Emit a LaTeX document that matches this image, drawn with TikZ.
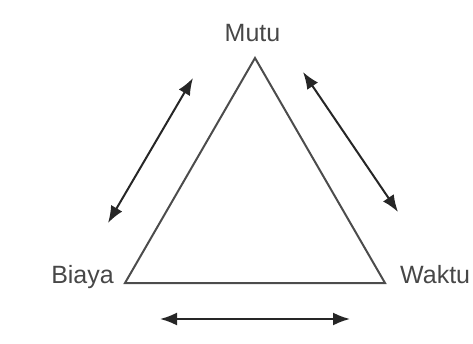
\documentclass[tikz,border=0pt]{standalone}
\usepackage{fontspec}
\setmainfont{Liberation Sans}
\usetikzlibrary{arrows.meta}
\begin{document}
\begin{tikzpicture}[x=1pt,y=-1pt,
    every node/.style={text=black!72,font=\fontsize{25}{30}\selectfont,inner sep=0pt},
    twoway/.style={{Latex[length=17pt,width=13pt]}-{Latex[length=17pt,width=13pt]},line width=2pt,black!85}]
    \useasboundingbox (0,0) rectangle (473,344);
% Triangle
    \coordinate (top) at (255,58);
    \coordinate (left) at (125,283);
    \coordinate (right) at (385,283);
    \draw[line width=2pt,black!70,line join=miter] (top) -- (left) -- (right) -- cycle;
% Labels
    \node[anchor=base] (mutu) at (252.5,42) {Mutu};
    \node[anchor=base east] (biaya) at (114,283) {Biaya};
    \node[anchor=base west] (waktu) at (400,283) {Waktu};
% Arrows
    \coordinate (l1) at (193,78);
    \coordinate (l2) at (108,223);
    \coordinate (r1) at (303,72);
    \coordinate (r2) at (398,212);
    \coordinate (b1) at (160,319);
    \coordinate (b2) at (350,319);
    \foreach \s in {l,r,b}{
        \draw[twoway] (\s1) -- (\s2);
    }
\end{tikzpicture}
\end{document}
